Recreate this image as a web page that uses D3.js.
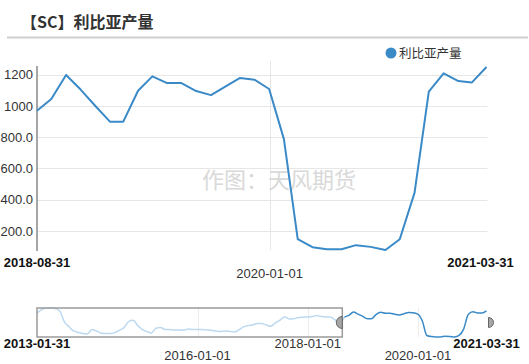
<!DOCTYPE html>
<html><head><meta charset="utf-8">
<script src="https://cdn.jsdelivr.net/npm/d3@7"></script>
<style>
html,body{margin:0;padding:0;background:#fff;}
svg{display:block;font-family:"Liberation Sans",Arial,"Noto Sans CJK SC",sans-serif;}
</style></head><body>
<svg id="c" width="529" height="364"></svg>
<script>
// ---- data ----
const histStart = "2013-01";           // first month of the history
const histValues = [1150,1300,1380,1380,1360,1250,770,545,350,290,230,215,
  410,350,260,230,230,275,380,500,770,830,590,410,
  320,260,470,500,420,410,395,395,380,440,410,410,
  410,395,380,350,320,350,335,300,395,530,590,620,
  680,680,620,560,710,830,980,890,900,950,965,980,
  995,1040,995,980,980,845,690];      // 2013-01 .. 2018-07
const mainValues = [970,1045,1199,1107,1002,900,900,1098,1190,1147,1147,1096,
  1070,1124,1180,1169,1109,788,147,96,83,83,109,98,
  78,147,444,1092,1209,1160,1150,1250]; // 2018-08 .. 2021-03
const yTicks = [200,400,600,800,1000,1200];
const yTickLabels = ["200.0","400.0","600.0","800.0","1000","1200"];
const mainXLabels = [{d:"2018-08-31",bold:true},{d:"2020-01-01",bold:false},{d:"2021-03-31",bold:true}];
const navXLabels = [{d:"2013-01-31",bold:true,row:0},{d:"2016-01-01",bold:false,row:1},{d:"2018-01-01",bold:false,row:0},{d:"2020-01-01",bold:false,row:1},{d:"2021-03-31",bold:true,row:0}];
const seriesName = "利比亚产量";
const title = "【SC】利比亚产量";
const watermark = "作图：天风期货";

// ---- build series ----
const parse = d3.timeParse("%Y-%m-%d");
const monthEnd = i => d3.timeDay.offset(d3.timeMonth.offset(new Date(2013,1,1), i), -1);
const allValues = histValues.concat(mainValues);
const all = allValues.map((v,i)=>({date:monthEnd(i), v}));
const main = all.slice(histValues.length);
const hist = all.slice(0, histValues.length+1);

const svg = d3.select("#c");
const blue = "#3a8ac8";

// title + separator
svg.append("text").attr("x",21).attr("y",28).attr("font-size",16).attr("font-weight","bold")
  .attr("fill","#333").attr("font-family","'Noto Sans CJK SC',sans-serif").text(title);
svg.append("line").attr("x1",7).attr("x2",528).attr("y1",37.5).attr("y2",37.5)
  .attr("stroke","#cfcfcf").attr("stroke-width",2);

// legend
svg.append("circle").attr("cx",391).attr("cy",53).attr("r",5.5).attr("fill",blue);
svg.append("text").attr("x",399).attr("y",57.5).attr("font-size",12.5).attr("fill","#333")
  .attr("font-family","'Noto Sans CJK SC',sans-serif").text(seriesName);

// ---- main chart ----
const L=37, R=486.5, T=67, B=250;
const x = d3.scaleTime().domain(d3.extent(main,d=>d.date)).range([L,R]);
const y = d3.scaleLinear().domain(d3.extent(main,d=>d.v)).range([B,T]);

// grid
svg.append("g").selectAll("line").data(yTicks).join("line")
  .attr("x1",L).attr("x2",R+1).attr("y1",d=>Math.round(y(d))+0.5).attr("y2",d=>Math.round(y(d))+0.5)
  .attr("stroke","#e6e6e6").attr("stroke-width",1);
const g2020 = parse("2020-01-01");
svg.append("line").attr("x1",Math.round(x(g2020))+0.5).attr("x2",Math.round(x(g2020))+0.5)
  .attr("y1",T-6).attr("y2",B).attr("stroke","#e6e6e6");

// y axis
const yAxis = d3.axisLeft(y).tickValues(yTicks).tickSize(0).tickPadding(4)
  .tickFormat((d,i)=>yTickLabels[i]);
const ya = svg.append("g").attr("transform",`translate(${L},0)`).call(yAxis);
ya.select(".domain").remove();
ya.selectAll("text").attr("font-size",13).attr("fill","#333").attr("font-family","'Liberation Sans',Arial,sans-serif");
svg.append("line").attr("x1",L).attr("x2",L).attr("y1",T-1).attr("y2",B+1).attr("stroke","#888").attr("stroke-width",1.5);

// watermark
svg.append("text").attr("x",279).attr("y",188).attr("text-anchor","middle").attr("font-size",22)
  .attr("fill","#d9d9d9").attr("font-family","'Noto Sans CJK SC',sans-serif").text(watermark);

// line
svg.append("path").datum(main).attr("fill","none").attr("stroke",blue).attr("stroke-width",2)
  .attr("stroke-linejoin","round")
  .attr("d",d3.line().x(d=>x(d.date)).y(d=>y(d.v)));

// main x labels
svg.append("g").selectAll("text").data(mainXLabels).join("text")
  .attr("x",d=>{const px=x(parse(d.d)); return d.d==="2021-03-31"? px-6 : px;})
  .attr("y",d=>d.bold?266.5:277.5)
  .attr("text-anchor","middle").attr("font-size",13)
  .attr("font-weight",d=>d.bold?"bold":"normal").attr("fill",d=>d.bold?"#111":"#333")
  .text(d=>d.d);

// ---- navigator ----
const nT=308, nB=337;
const nx = d3.scaleTime().domain(d3.extent(all,d=>d.date)).range([L,R]);
const ny = d3.scaleLinear().domain(d3.extent(all,d=>d.v)).range([nB,nT]);
// vertical grid
["2016-01-01","2018-01-01","2020-01-01"].forEach(s=>{
  const px=Math.round(nx(parse(s)))+0.5;
  svg.append("line").attr("x1",px).attr("x2",px).attr("y1",nT).attr("y2",nB).attr("stroke","#ececec");
});
const nline = d3.line().x(d=>nx(d.date)).y(d=>ny(d.v)).curve(d3.curveMonotoneX);
svg.append("path").datum(hist).attr("fill","none").attr("stroke","#bcd9f0").attr("stroke-width",1.5).attr("d",nline);
svg.append("path").datum(main).attr("fill","none").attr("stroke",blue).attr("stroke-width",1.5).attr("d",nline);
// mask box over unselected part
const selStart = nx(main[0].date)-2;
svg.append("rect").attr("x",L).attr("y",nT).attr("width",selStart-L).attr("height",nB-nT)
  .attr("fill","none").attr("stroke","#9a9a9a").attr("stroke-width",1.5);
// handles
const hy=(nT+nB)/2;
svg.append("path").attr("d",`M${selStart},${hy-6} A6,6 0 0 0 ${selStart},${hy+6} Z`)
  .attr("fill","#a6a6a6").attr("stroke","#666").attr("stroke-width",1);
const re = R+2;
svg.append("path").attr("d",`M${re},${hy-5} A5,5 0 0 1 ${re},${hy+5} Z`)
  .attr("fill","#a6a6a6").attr("stroke","#666").attr("stroke-width",1);

// navigator labels
svg.append("g").selectAll("text").data(navXLabels).join("text")
  .attr("x",d=>nx(parse(d.d)))
  .attr("y",d=>d.row===0?347.5:359.5)
  .attr("text-anchor","middle").attr("font-size",13)
  .attr("font-weight",d=>d.bold?"bold":"normal").attr("fill",d=>d.bold?"#111":"#333")
  .text(d=>d.d);
</script></body></html>
